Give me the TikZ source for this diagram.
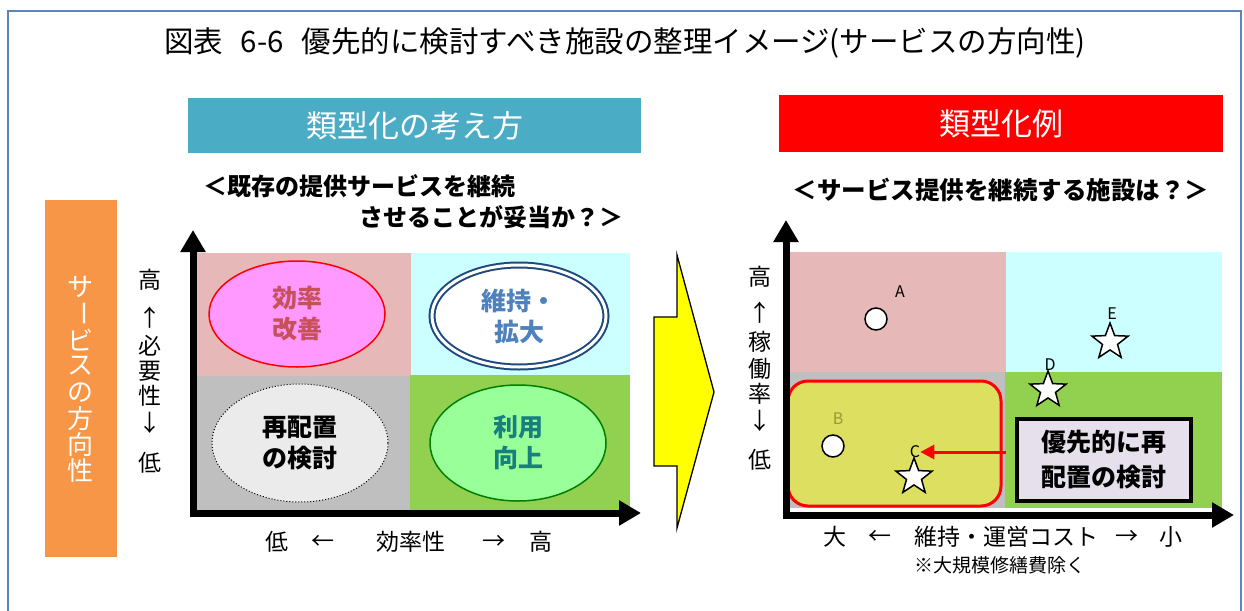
\documentclass[tikz,border=0pt]{standalone}
\usepackage{fontspec}
\usepackage{graphicx}
\setmainfont{Noto Sans CJK JP}
\usetikzlibrary{arrows.meta,shapes.geometric}
\definecolor{framecol}{HTML}{5B87B5}
\definecolor{tealhead}{HTML}{4BACC6}
\definecolor{orangebox}{HTML}{F79646}
\definecolor{pinkq}{HTML}{E6B9B8}
\definecolor{cyanq}{HTML}{CCFFFF}
\definecolor{grayq}{HTML}{BFBFBF}
\definecolor{greenq}{HTML}{92D050}
\definecolor{pinkell}{HTML}{FF99FF}
\definecolor{rosetxt}{HTML}{C8505A}
\definecolor{navy}{HTML}{1F497D}
\definecolor{bluetxt}{HTML}{4F81BD}
\definecolor{lgray}{HTML}{EBEBEB}
\definecolor{lgreen}{HTML}{99FF99}
\definecolor{dgreen}{HTML}{008000}
\definecolor{tealtxt}{HTML}{17807E}
\definecolor{olivey}{HTML}{DDDF60}
\definecolor{olivetxt}{HTML}{999933}
\definecolor{lavender}{HTML}{E6E0EC}
\definecolor{arrowyellow}{HTML}{FFFF00}
\begin{document}
\begin{tikzpicture}[x=1pt,y=-1pt,
  fs/.style={font=\fontsize{#1}{#1}\selectfont},
  fsb/.style={font=\fontsize{#1}{#1}\selectfont\bfseries},
  axis/.style={line width=7pt,-{Triangle[width=24pt,length=22pt]}},
  ell/.style={ellipse,minimum width=176pt,minimum height=106pt,align=center,inner sep=0pt,font=\fontsize{25}{31}\selectfont\bfseries},
  axlab/.style={inner sep=0pt,font=\fontsize{23}{23}\selectfont},
  pt/.style={circle,draw=black,fill=white,line width=1.5pt,minimum size=22pt,inner sep=0pt},
  st/.style={star,star points=5,star point ratio=2.4,draw=black,fill=white,line width=1.5pt,minimum size=38pt,inner sep=0pt},
  ptlab/.style={inner sep=0pt,font=\fontsize{16}{16}\selectfont},
  head/.style={inner sep=0pt,text=white,font=\fontsize{31}{31}\selectfont}
]
\useasboundingbox (0,0) rectangle (1244,610);
% frame
\draw[framecol,line width=1.5pt] (8,640) -- (8,11) -- (1241,11) -- (1241,640);
% title
\node[fs=29.5,inner sep=0pt] (title) at (625,43) {図表\hspace{0.6em}6-6\hspace{0.6em}優先的に検討すべき施設の整理イメージ(サービスの方向性)};
% headers
\fill[tealhead] (188,98) rectangle (641,153);
\node[head] (lhead) at (414.5,126) {類型化の考え方};
\fill[red] (779,95) rectangle (1223,152);
\node[head] (rhead) at (1001,124) {類型化例};
% orange side box
\fill[orangebox] (45,200) rectangle (117,557);
\foreach \c [count=\i from 0] in {サ,{\rotatebox[origin=c]{-90}{ー}},ビ,ス,の,方,向,性}
  \node[inner sep=0pt,text=white,fs=26] (side\i) at (80,287+26.3*\i) {\c};
% left subtitle
\node[anchor=west,inner sep=0pt,fsb=24] (lsub1) at (203,186) {＜既存の提供サービスを継続};
\node[anchor=east,inner sep=0pt,fsb=24] (lsub2) at (624,217) {させることが妥当か？＞};
% left quadrants
\fill[pinkq] (197,253) rectangle (411,376);
\fill[cyanq] (411,253) rectangle (630,375);
\fill[grayq] (197,376) rectangle (410,510);
\fill[greenq] (410,375) rectangle (630,510);
% left axes
\coordinate (lytip) at (193,230);
\coordinate (lxtip) at (641,513);
\draw[axis] (193,517) -- (lytip);
\draw[axis] (189.5,513) -- (lxtip);
% left ellipses
\node[ell,draw=red,line width=1.5pt,fill=pinkell,text=rosetxt] (eff) at (297,314) {効率\\改善};
\node[ell,draw=navy,double=white,double distance=3pt,line width=2pt,fill=white,text=bluetxt,minimum width=174pt,minimum height=102pt] (keep) at (519,316) {維持・\\拡大};
\node[ell,draw=black,dotted,line width=1pt,fill=lgray,text=black,minimum height=118pt] (reloc) at (300,443) {再配置\\の検討};
\node[ell,draw=dgreen,line width=1.5pt,fill=lgreen,text=tealtxt,minimum height=116pt] (use) at (518,443) {利用\\向上};
% left y-axis label
\node[axlab] (ly1) at (150,280) {高};
\node[axlab] (ly2) at (150,318) {↑};
\node[axlab] (ly3) at (150,346) {必};
\node[axlab] (ly4) at (150,371) {要};
\node[axlab] (ly5) at (150,396) {性};
\node[axlab] (ly6) at (150,423) {↓};
\node[axlab] (ly7) at (150,463) {低};
% left x-axis label
\node[axlab] (lx1) at (277,542) {低};
\node[axlab] (lx2) at (323,542) {←};
\node[axlab] (lx3) at (411,542) {効率性};
\node[axlab] (lx4) at (494,542) {→};
\node[axlab] (lx5) at (541,542) {高};
% big yellow arrow
\filldraw[fill=arrowyellow,draw=black,line width=1.3pt]
  (654,317) -- (677,317) -- (677,255) -- (714,392) -- (677,528) -- (677,466) -- (654,466) -- cycle;
% right subtitle
\node[inner sep=0pt,fsb=24.5] (rsub) at (1001,190) {＜サービス提供を継続する施設は？＞};
% right quadrants
\fill[pinkq] (790,252) rectangle (1006,372);
\fill[cyanq] (1006,252) rectangle (1222,372);
\fill[grayq] (790,372) rectangle (1005,508);
\fill[greenq] (1005,372) rectangle (1222,508);
% rounded highlight
\draw[red,line width=3pt,fill=olivey,rounded corners=20pt] (788,381) rectangle (1001,506);
% right axes
\coordinate (rytip) at (786,220);
\coordinate (rxtip) at (1234,515);
\draw[axis] (786,519) -- (rytip);
\draw[axis] (782.5,515) -- (rxtip);
% points
\node[pt] (A) at (876,319) {};
\node[ptlab] (Alab) at (900,292) {A};
\node[pt] (B) at (833,446) {};
\node[ptlab,text=olivetxt] (Blab) at (838,419) {B};
\node[st] (C) at (914,477) {};
\node[ptlab] (Clab) at (915,452) {C};
\node[st] (D) at (1048,390) {};
\node[ptlab] (Dlab) at (1050,365) {D};
\node[st] (E) at (1110,342) {};
\node[ptlab] (Elab) at (1112,314) {E};
% priority box
\node[draw=black,line width=4pt,fill=lavender,minimum width=174pt,minimum height=82pt,inner sep=0pt,align=center,font=\fontsize{25}{35}\selectfont\bfseries] (prio) at (1104,460) {優先的に再\\配置の検討};
\draw[red,line width=3pt,-{Triangle[width=14pt,length=14pt]}] ([xshift=-9pt]prio.west |- Clab.east) -- (Clab.east);
% right y-axis label
\node[axlab] (ry1) at (760,277) {高};
\node[axlab] (ry2) at (760,313) {↑};
\node[axlab] (ry3) at (760,342) {稼};
\node[axlab] (ry4) at (760,369) {働};
\node[axlab] (ry5) at (760,394) {率};
\node[axlab] (ry6) at (760,421) {↓};
\node[axlab] (ry7) at (760,460) {低};
% right x-axis label
\node[axlab] (rx1) at (835,537) {大};
\node[axlab] (rx2) at (880,537) {←};
\node[axlab] (rx3) at (1006,537) {維持・運営コスト};
\node[axlab] (rx4) at (1127,537) {→};
\node[axlab] (rx5) at (1171,537) {小};
\node[inner sep=0pt,fs=19] (note) at (1000,565) {※大規模修繕費除く};
\end{tikzpicture}
\end{document}
